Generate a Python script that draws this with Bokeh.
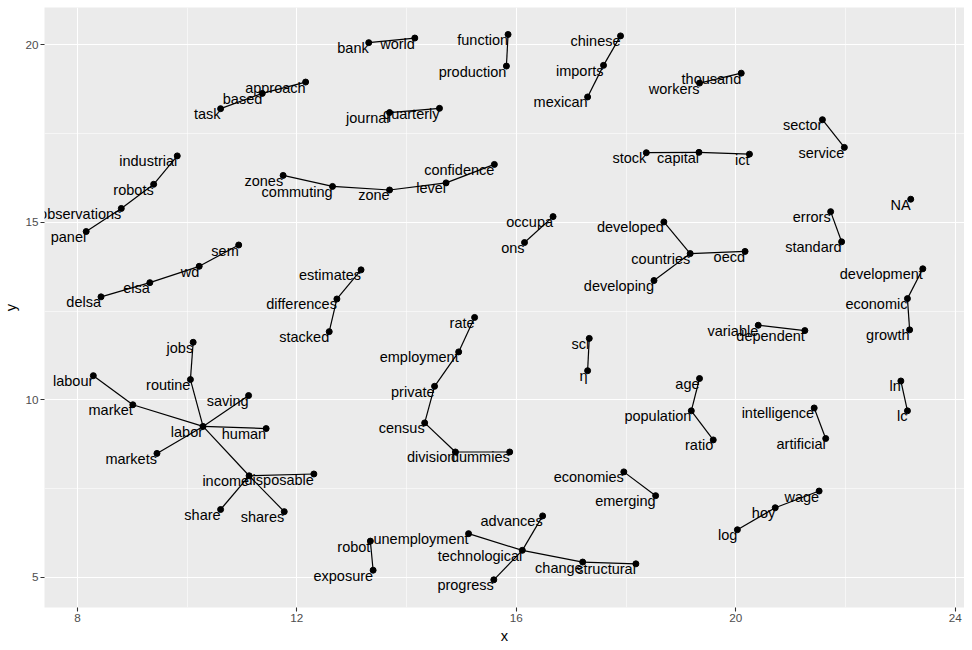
from bokeh.core.properties import value
from bokeh.embed import file_html
from bokeh.models import ColumnDataSource, FixedTicker
from bokeh.plotting import figure
from bokeh.resources import INLINE

# word positions
words = ["task", "based", "approach",
         "panel", "observations", "robots", "industrial",
         "delsa", "elsa", "wd", "sem",
         "zones", "commuting", "zone", "level", "confidence",
         "bank", "world", "function", "production",
         "chinese", "imports", "mexican", "journal", "quarterly",
         "thousand", "workers", "sector", "service",
         "stock", "capital", "ict", "occupa", "ons",
         "developed", "countries", "oecd", "developing",
         "errors", "standard", "NA",
         "estimates", "differences", "stacked",
         "development", "economic", "growth", "variable", "dependent",
         "rate", "employment", "private", "census", "division", "dummies",
         "sci", "η", "age", "population", "ratio",
         "intelligence", "artificial", "ln", "lc",
         "jobs", "routine", "labour", "market", "labor", "saving", "human",
         "markets", "income", "disposable", "share", "shares",
         "economies", "emerging", "wage", "hoy", "log",
         "robot", "exposure", "advances", "unemployment", "technological",
         "change", "structural", "progress"]

xs = [10.61, 11.37, 12.16,
      8.16, 8.80, 9.39, 9.82,
      8.43, 9.32, 10.22, 10.94,
      11.75, 12.65, 13.69, 14.72, 15.60,
      13.31, 14.15, 15.85, 15.82,
      17.90, 17.59, 17.30, 13.69, 14.60,
      20.10, 19.34, 21.58, 21.98,
      18.37, 19.33, 20.25, 16.67, 16.15,
      18.69, 19.17, 20.17, 18.51,
      21.73, 21.93, 23.19,
      13.17, 12.73, 12.59,
      23.41, 23.13, 23.17, 20.41, 21.26,
      15.24, 14.95, 14.51, 14.33, 14.89, 15.88,
      17.33, 17.30, 19.34, 19.19, 19.59,
      21.43, 21.64, 23.01, 23.13,
      10.11, 10.06, 8.29, 9.01, 10.29, 11.12, 11.44,
      9.45, 11.13, 12.31, 10.61, 11.77,
      17.96, 18.54, 21.52, 20.72, 20.03,
      13.34, 13.39, 16.48, 15.13, 16.11,
      17.21, 18.18, 15.59]

ys = [18.20, 18.63, 18.95,
      14.74, 15.39, 16.07, 16.87,
      12.90, 13.30, 13.76, 14.36,
      16.32, 16.01, 15.91, 16.11, 16.63,
      20.06, 20.19, 20.29, 19.40,
      20.25, 19.42, 18.53, 18.09, 18.21,
      19.20, 18.92, 17.89, 17.11,
      16.96, 16.97, 16.92, 15.16, 14.43,
      15.01, 14.12, 14.18, 13.36,
      15.30, 14.45, 15.65,
      13.66, 12.84, 11.92,
      13.69, 12.85, 11.97, 12.10, 11.95,
      12.32, 11.35, 10.38, 9.35, 8.53, 8.53,
      11.73, 10.82, 10.60, 9.69, 8.87,
      9.77, 8.91, 10.53, 9.69,
      11.62, 10.57, 10.68, 9.86, 9.25, 10.12, 9.19,
      8.49, 7.86, 7.91, 6.91, 6.85,
      7.97, 7.30, 7.43, 6.96, 6.34,
      6.02, 5.20, 6.73, 6.23, 5.76,
      5.43, 5.38, 4.93]

edge_from = ["task", "based", "panel", "observations", "robots",
             "delsa", "elsa", "wd", "zones", "commuting", "zone", "level",
             "bank", "function", "chinese", "imports", "journal",
             "thousand", "sector", "stock", "capital", "occupa",
             "developed", "countries", "countries", "errors",
             "estimates", "differences", "development", "economic", "variable",
             "rate", "employment", "private", "census", "division",
             "sci", "age", "population", "intelligence", "ln",
             "jobs", "routine", "labour", "market", "labor", "labor", "labor",
             "labor", "income", "income", "income",
             "economies", "wage", "hoy", "robot",
             "advances", "technological", "unemployment", "technological", "change"]
edge_to = ["based", "approach", "observations", "robots", "industrial",
           "elsa", "wd", "sem", "commuting", "zone", "level", "confidence",
           "world", "production", "imports", "mexican", "quarterly",
           "workers", "service", "capital", "ict", "ons",
           "countries", "oecd", "developing", "standard",
           "differences", "stacked", "economic", "growth", "dependent",
           "employment", "private", "census", "division", "dummies",
           "η", "population", "ratio", "artificial", "lc",
           "routine", "labor", "market", "labor", "saving", "human", "markets",
           "income", "disposable", "share", "shares",
           "emerging", "hoy", "log", "exposure",
           "technological", "progress", "technological", "change", "structural"]

pos = {w: (x, y) for w, x, y in zip(words, xs, ys)}

p = figure(frame_width=920, frame_height=600, x_range=(7.40, 24.17), y_range=(4.15, 21.05),
           output_backend="svg", toolbar_location=None,
           min_border_top=7, min_border_right=0, min_border_left=44, min_border_bottom=0)
p.background_fill_color = "#EBEBEB"
p.border_fill_color = "white"
p.outline_line_color = None

seg = ColumnDataSource(dict(
    x0=[pos[a][0] for a in edge_from], y0=[pos[a][1] for a in edge_from],
    x1=[pos[b][0] for b in edge_to], y1=[pos[b][1] for b in edge_to]))
p.segment("x0", "y0", "x1", "y1", source=seg, line_color="black", line_width=1.2)

src = ColumnDataSource(dict(x=xs, y=ys, w=words))
p.scatter("x", "y", source=src, size=6, color="black")
p.text("x", "y", text="w", source=src, text_align="right", text_baseline="alphabetic",
       y_offset=5.5, text_font=value("Liberation Sans"), text_font_size="14.5px",
       text_color="black")

p.xaxis.ticker = FixedTicker(ticks=[8, 12, 16, 20, 24], minor_ticks=[10, 14, 18, 22])
p.yaxis.ticker = FixedTicker(ticks=[5, 10, 15, 20], minor_ticks=[7.5, 12.5, 17.5])
p.xaxis.axis_label = "x"
p.yaxis.axis_label = "y"
for ax in (p.xaxis, p.yaxis):
    ax.axis_line_color = None
    ax.major_tick_line_color = "#333333"
    ax.major_tick_line_width = 1.1
    ax.major_tick_out = 4
    ax.major_tick_in = 0
    ax.minor_tick_line_color = None
    ax.major_label_text_color = "#4D4D4D"
    ax.major_label_text_font = "Liberation Sans"
    ax.major_label_text_font_size = "11.7px"
    ax.major_label_standoff = 2
    ax.axis_label_text_font = "Liberation Sans"
    ax.axis_label_text_font_size = "14.7px"
    ax.axis_label_text_font_style = "normal"
    ax.axis_label_text_color = "black"
    ax.axis_label_standoff = 3
p.yaxis.major_label_orientation = "horizontal"

p.grid.grid_line_color = "white"
p.grid.grid_line_width = 1.1
p.grid.minor_grid_line_color = "white"
p.grid.minor_grid_line_width = 0.55

open("out.html", "w").write(file_html(p, INLINE))
